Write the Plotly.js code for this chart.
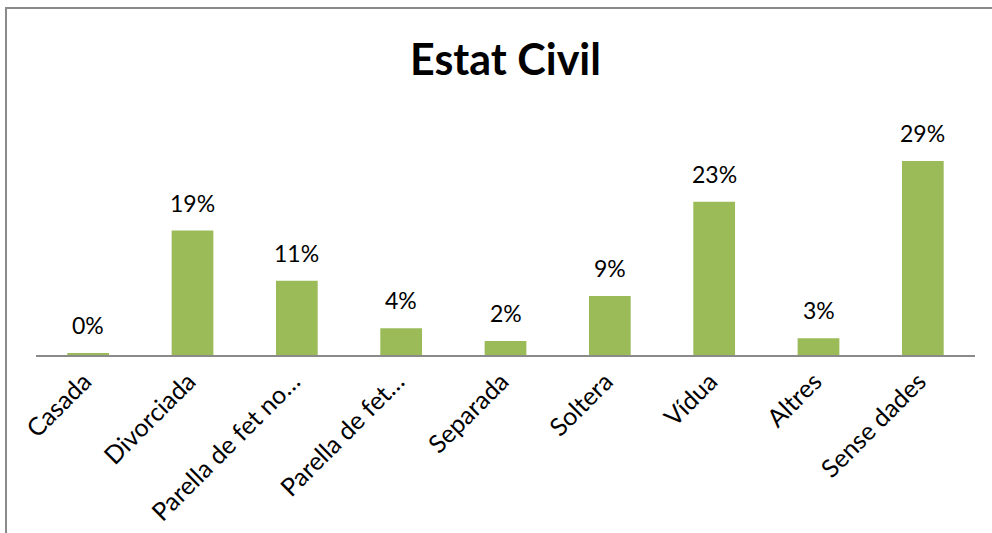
<!DOCTYPE html>
<html>
<head>
<meta charset="utf-8">
<script src="https://cdn.plot.ly/plotly-3.0.1.min.js"></script>
<style>
html,body{margin:0;padding:0;background:#fff;}
#wrap{position:relative;width:992px;height:533px;overflow:hidden;}
#chart{position:absolute;left:0;top:0;width:992px;height:533px;}
#frame{position:absolute;left:5px;top:7px;width:1000px;height:600px;border-left:2px solid #8a8a8a;border-top:2px solid #8a8a8a;pointer-events:none;}
</style>
</head>
<body>
<div id="wrap"><div id="chart"></div><div id="frame"></div></div>
<script>
const categories = ["Casada", "Divorciada", "Parella de fet no…", "Parella de fet…", "Separada", "Soltera", "Vídua", "Altres", "Sense dades"];
const values = [0.3, 18.6, 11.1, 4.0, 2.1, 8.8, 22.9, 2.5, 29.0];
const labels = ["0%", "19%", "11%", "4%", "2%", "9%", "23%", "3%", "29%"];

const font = "Lato, 'Open Sans', sans-serif";

const trace = {
  type: "bar",
  x: categories,
  y: values,
  marker: {color: "#9BBB59"},
  hoverinfo: "none"
};

const annotations = categories.map((c, i) => ({
  x: c, y: values[i], text: labels[i],
  xref: "x", yref: "y", showarrow: false,
  yanchor: "bottom", yshift: 12,
  font: {family: font, size: 23, color: "#000"}
}));

const layout = {
  width: 992, height: 533,
  margin: {l: 36, r: 17, t: 100, b: 178},
  paper_bgcolor: "#fff", plot_bgcolor: "#fff",
  bargap: 0.6,
  showlegend: false,
  title: {
    text: "<b>Estat Civil</b>",
    x: 0.5, xref: "paper", y: 0.887, yref: "container", yanchor: "middle",
    font: {family: font, size: 43, color: "#000"}
  },
  xaxis: {
    type: "category",
    tickangle: -45,
    showline: true, linecolor: "#8a8a8a", linewidth: 2,
    ticks: "", showgrid: false, zeroline: false,
    tickfont: {family: font, size: 25, color: "#000"},
    ticklabelshift: -4,
    automargin: false
  },
  yaxis: {
    range: [0, 38.1],
    visible: false, showgrid: false, zeroline: false
  },
  annotations: annotations
};

Plotly.newPlot("chart", [trace], layout, {displayModeBar: false, staticPlot: true});
</script>
</body>
</html>
